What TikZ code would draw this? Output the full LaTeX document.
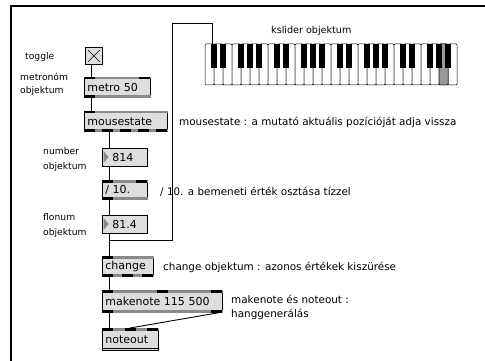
\documentclass[tikz,border=0pt]{standalone}
\usepackage{fontspec}
\setmainfont{DejaVu Sans}
\definecolor{objfill}{HTML}{DEDEDE}
\definecolor{bargray}{HTML}{8A8A8A}
\definecolor{keygray}{HTML}{999999}
\newcommand\mxtop[2]{% node, number of inlets
  \fill[bargray] (#1.north west) rectangle ([yshift=-2.5pt]#1.north east);
  \pgfmathsetmacro\mxw{\pgfkeysvalueof{/mx/width}}%
  \foreach \k in {1,...,#2}{%
    \pgfmathsetmacro\mxs{(\k-1)*(\mxw-11)/max(#2-1,1)}%
    \fill[black] ([xshift=\mxs pt]#1.north west) rectangle ([xshift=\mxs pt+11pt,yshift=-2.5pt]#1.north west);}
}
\newcommand\mxbot[2]{% node, number of outlets
  \fill[bargray] (#1.south west) rectangle ([yshift=2.5pt]#1.south east);
  \pgfmathsetmacro\mxw{\pgfkeysvalueof{/mx/width}}%
  \foreach \k in {1,...,#2}{%
    \pgfmathsetmacro\mxs{(\k-1)*(\mxw-11)/max(#2-1,1)}%
    \fill[black] ([xshift=\mxs pt]#1.south west) rectangle ([xshift=\mxs pt+11pt,yshift=2.5pt]#1.south west);}
}
\pgfkeys{/mx/width/.initial=60}
\begin{document}
\begin{tikzpicture}[x=1pt,y=-1pt,
  obj/.style={draw=black, line width=0.7pt, fill=objfill, anchor=north west,
    inner xsep=3pt, inner ysep=0pt, align=left, font=\fontsize{11}{12}\selectfont},
  numbox/.style={obj},
  lbl/.style={anchor=base west, inner sep=0pt, font=\fontsize{9.2}{10}\selectfont},
  cmt/.style={anchor=base west, inner sep=0pt, font=\fontsize{10.4}{12}\selectfont},
  cord/.style={line width=0.9pt},
  wkey/.style={draw=black, line width=0.5pt, fill=white, rounded corners=1pt},
  frame/.style={line width=2pt}
]
\useasboundingbox (0,0) rectangle (485,361);
\draw[frame] (11,361) -- (11,6) -- (485,6);

% keyboard (kslider)
\node[anchor=north west, inner sep=0pt, minimum width=252pt, minimum height=41pt] (kb) at (205,44) {};
\foreach \i in {0,...,27} \draw[wkey] (205+9*\i,44) rectangle (214+9*\i,85);
\draw[wkey, fill=keygray] (439,44) rectangle (448,85);
\foreach \o in {0,...,3}
  \foreach \b in {1,2,4,5,6}
    \fill[black] (205+63*\o+9*\b-3,44) rectangle +(6,24);
\node[cmt, font=\fontsize{9.6}{11}\selectfont] (kbl) at (271,34) {kslider objektum};

% toggle
\node[draw=black, line width=0.7pt, fill=objfill, anchor=north west, minimum size=17pt, inner sep=0pt] (tog) at (85,47) {};
\draw[line width=0.6pt] ([shift={(3pt,-3pt)}]tog.north west) -- ([shift={(-3pt,3pt)}]tog.south east);
\draw[line width=0.6pt] ([shift={(-3pt,-3pt)}]tog.north east) -- ([shift={(3pt,3pt)}]tog.south west);

% objects
\node[obj, text width=60pt, minimum height=20pt] (metro) at (84,77) {metro 50};
\pgfkeys{/mx/width=66}\mxtop{metro}{2}\mxbot{metro}{1}
\node[obj, text width=77pt, minimum height=20pt] (mouse) at (84,111) {mousestate};
\pgfkeys{/mx/width=83}\mxtop{mouse}{1}\mxbot{mouse}{5}
\node[numbox, text width=39pt, minimum height=18pt] (num) at (102,148) {\hspace{7pt}814};
\node[obj, text width=39pt, minimum height=19pt] (div) at (102,180) {/ 10.};
\pgfkeys{/mx/width=45}\mxtop{div}{2}\mxbot{div}{1}
\node[numbox, text width=39pt, minimum height=18pt] (flo) at (102,215) {\hspace{7pt}81.4};
\node[obj, text width=45pt, minimum height=20pt] (chg) at (102,256) {change};
\pgfkeys{/mx/width=51}\mxtop{chg}{1}\mxbot{chg}{3}
\node[obj, text width=114pt, minimum height=22pt] (mk) at (102,290) {makenote 115 500};
\pgfkeys{/mx/width=120}\mxtop{mk}{3}\mxbot{mk}{2}
\node[obj, text width=50pt, minimum height=22pt] (nout) at (102,328) {noteout};
\pgfkeys{/mx/width=56}\mxtop{nout}{3}
\draw[line width=0.5pt] ([yshift=2.5pt]nout.south west) -- ([yshift=2.5pt]nout.south east);

% number box triangles
\foreach \n in {num,flo}
  \fill[bargray] ([shift={(1.5pt,-3pt)}]\n.north west) -- ([shift={(6.5pt,-9pt)}]\n.north west) -- ([shift={(1.5pt,-15pt)}]\n.north west) -- cycle;

% left labels
\node[lbl] (l1) at (25,60) {toggle};
\node[lbl] (l2) at (20,81) {metronóm};
\node[lbl] (l3) at (20,93) {objektum};
\node[lbl] (l4) at (43,154) {number};
\node[lbl] (l5) at (43,169) {objektum};
\node[lbl] (l6) at (43,220) {flonum};
\node[lbl] (l7) at (43,235) {objektum};

% comments
\node[cmt] (c1) at (179,125) {mousestate : a mutató aktuális pozícióját adja vissza};
\node[cmt] (c2) at (160,195) {/ 10. a bemeneti érték osztása tízzel};
\node[cmt] (c3) at (163,270) {change objektum : azonos értékek kiszürése};
\node[cmt] (c4) at (231,303) {makenote és noteout :};
\node[cmt] (c5) at (231,317) {hanggenerálás};

% cords
\coordinate (b1) at (172,240);
\coordinate (b2) at (172,23);
\draw[cord] ([xshift=6pt]tog.south west) -- ([xshift=7pt]metro.north west);
\draw[cord] ([xshift=7pt]metro.south west) -- ([xshift=7pt]mouse.north west);
\draw[cord] ([xshift=25pt]mouse.south west) -- ([xshift=7pt]num.north west);
\draw[cord] ([xshift=7pt]num.south west) -- ([xshift=7pt]div.north west);
\draw[cord] ([xshift=7pt]div.south west) -- ([xshift=7pt]flo.north west);
\draw[cord] ([xshift=7pt]flo.south west) -- ([xshift=7pt]chg.north west);
\draw[cord] ([xshift=7pt]flo.south west) |- (b1) -- (b2) -| ([xshift=7pt]kb.north west);
\draw[cord] ([xshift=7pt]chg.south west) -- ([xshift=7pt]mk.north west);
\draw[cord] ([xshift=7pt]mk.south west) -- ([xshift=7pt]nout.north west);
\draw[cord] ([xshift=-4pt]mk.south east) -- ([xshift=28pt]nout.north west);
\end{tikzpicture}
\end{document}
